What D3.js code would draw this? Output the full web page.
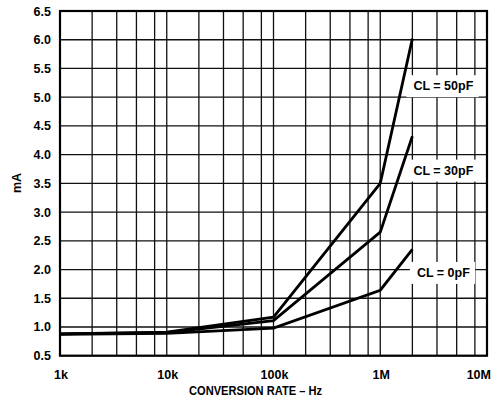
<!DOCTYPE html>
<meta charset="utf-8">
<script src="https://d3js.org/d3.v7.min.js"></script>
<style>
  body { margin: 0; background: #fff; }
  text { font-family: "Liberation Sans", Arial, sans-serif; font-weight: bold; font-size: 12.5px; fill: #000; }
</style>
<div id="my_dataviz"></div>
<script>
// data
var freqs = [1e3, 1e4, 1e5, 1e6, 2e6];
var cl50 = [0.88, 0.91, 1.17, 3.5, 6.02];
var cl30 = [0.88, 0.90, 1.11, 2.65, 4.32];
var cl0  = [0.87, 0.89, 0.98, 1.64, 2.35];
var seriesNames = ["CL = 50pF", "CL = 30pF", "CL = 0pF"];
var labelAt = [5.2, 3.73, 1.95];          // label centre (mA)
var labelFreq = 3.9e6;                      // label centre (Hz)
var xTicks = [1e3, 1e4, 1e5, 1e6, 1e7];
var xTickLabels = ["1k", "10k", "100k", "1M", "10M"];
var gridMult = [2, 3.4, 5.2, 7.7];          // hand-drawn minor grid inside each decade
var yTicks = d3.range(0.5, 6.51, 0.5);

var margin = {top: 11, right: 5, bottom: 44.3, left: 60},
    width = 492 - margin.left - margin.right,
    height = 400 - margin.top - margin.bottom;

var svg = d3.select("#my_dataviz")
  .append("svg")
    .attr("width", 492)
    .attr("height", 400)
  .append("g")
    .attr("transform", "translate(" + margin.left + "," + margin.top + ")");

var x = d3.scaleLog().domain([1e3, 1e7]).range([0, width]);
var y = d3.scaleLinear().domain([0.5, 6.5]).range([height, 0]);

// vertical grid
var vgrid = [];
xTicks.forEach(function(d) {
  vgrid.push(d);
  if (d < 1e7) gridMult.forEach(function(m) { vgrid.push(d * m); });
});
svg.selectAll("vline").data(vgrid).enter().append("line")
  .attr("x1", function(d) { return x(d); })
  .attr("x2", function(d) { return x(d); })
  .attr("y1", 0).attr("y2", height)
  .attr("stroke", "#111").attr("stroke-width", 1.3);

// horizontal grid
svg.selectAll("hline").data(yTicks).enter().append("line")
  .attr("x1", 0).attr("x2", width)
  .attr("y1", function(d) { return y(d); })
  .attr("y2", function(d) { return y(d); })
  .attr("stroke", "#111").attr("stroke-width", 1.3);

// curves
var series = [cl50, cl30, cl0];
var line = d3.line()
  .x(function(d, i) { return x(freqs[i]); })
  .y(function(d) { return y(d); });
svg.selectAll("curve").data(series).enter().append("path")
  .attr("d", line)
  .attr("fill", "none")
  .attr("stroke", "#000")
  .attr("stroke-width", 2.8)
  .attr("stroke-linejoin", "miter");

// labels with white boxes
seriesNames.forEach(function(name, i) {
  var g = svg.append("g");
  var t = g.append("text")
    .attr("x", x(labelFreq))
    .attr("y", y(labelAt[i]))
    .attr("text-anchor", "middle")
    .attr("dy", "0.36em")
    .text(name);
  var b = t.node().getBBox();
  g.insert("rect", "text")
    .attr("x", b.x - 7)
    .attr("y", b.y - 4)
    .attr("width", b.width + 12)
    .attr("height", b.height + 8)
    .attr("fill", "#fff");
});

// frame
svg.append("rect")
  .attr("x", 0).attr("y", 0)
  .attr("width", width).attr("height", height)
  .attr("fill", "none")
  .attr("stroke", "#000")
  .attr("stroke-width", 2.2);

// y tick labels
svg.selectAll("ylab").data(yTicks).enter().append("text")
  .attr("x", -9)
  .attr("y", function(d) { return y(d); })
  .attr("dy", "0.36em")
  .attr("text-anchor", "end")
  .text(function(d) { return d.toFixed(1); });

// x tick labels (last one pulled in so it stays inside the page)
svg.selectAll("xlab").data(xTicks).enter().append("text")
  .attr("x", function(d, i) { return i === xTicks.length - 1 ? 492 - margin.left - 1 : x(d) + 1; })
  .attr("y", height + 23)
  .attr("text-anchor", function(d, i) { return i === xTicks.length - 1 ? "end" : "middle"; })
  .text(function(d, i) { return xTickLabels[i]; });

// axis titles
svg.append("text")
  .attr("x", 255.5 - margin.left)
  .attr("y", 395 - margin.top)
  .attr("text-anchor", "middle")
  .attr("textLength", 133)
  .attr("lengthAdjust", "spacingAndGlyphs")
  .style("font-size", "13.5px")
  .text("CONVERSION RATE \u2013 Hz");

svg.append("text")
  .attr("transform", "rotate(-90)")
  .attr("x", -(183 - margin.top))
  .attr("y", 20.5 - margin.left)
  .attr("text-anchor", "middle")
  .text("mA");
</script>
